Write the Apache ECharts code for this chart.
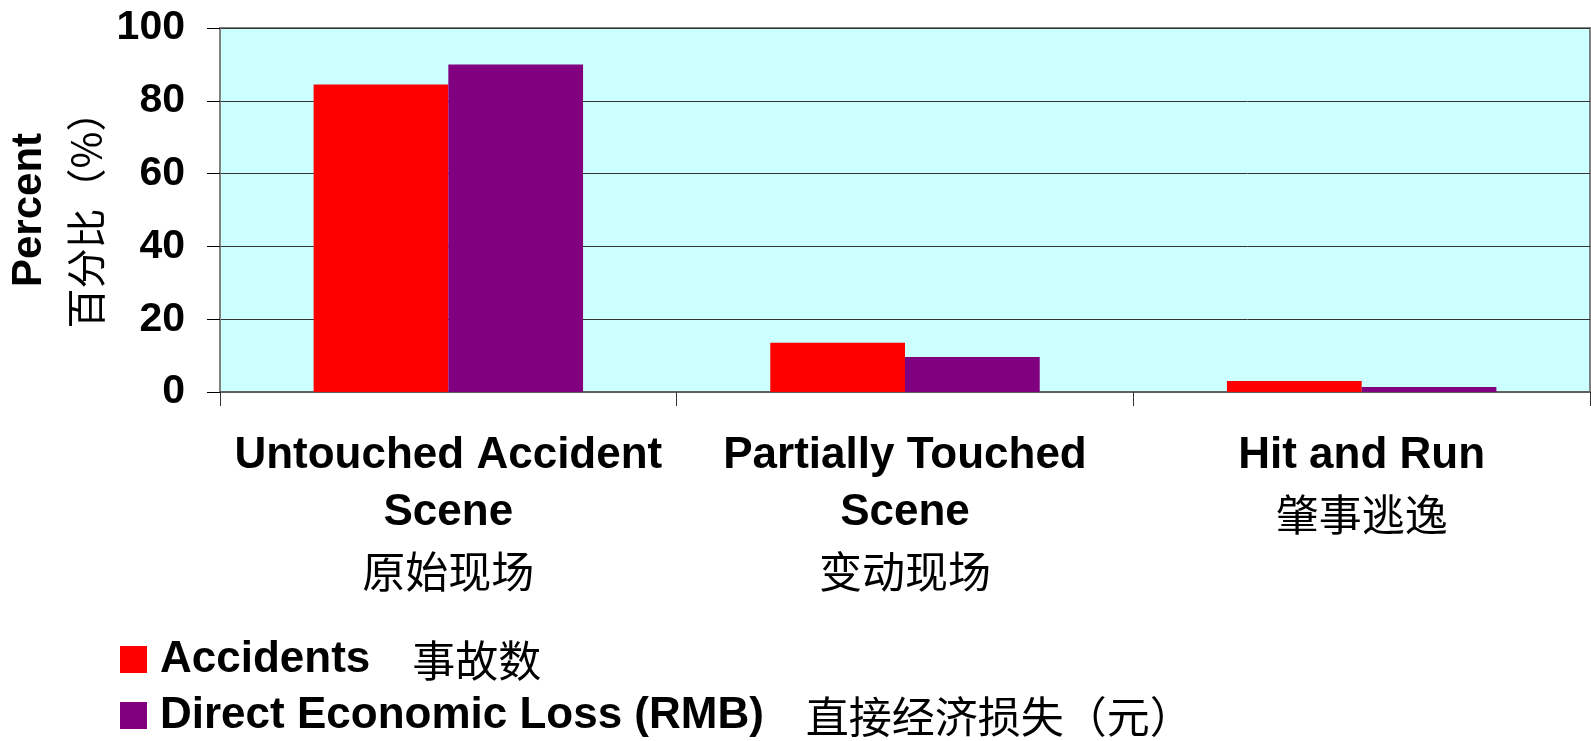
<!DOCTYPE html>
<html>
<head>
<meta charset="utf-8">
<script src="https://cdn.jsdelivr.net/npm/echarts@6/dist/echarts.min.js"></script>
<style>
  html, body { margin: 0; padding: 0; background: #fff; }
  #main { width: 1591px; height: 741px; }
</style>
</head>
<body>
<div id="main"></div>
<script>
// categories (english lines + chinese)
var catEn = ["Untouched Accident\nScene", "Partially Touched\nScene", "Hit and Run"];
var catZh = ["原始现场", "变动现场", "肇事逃逸"];

// series
var seriesEn = ["Accidents", "Direct Economic Loss (RMB)"];
var seriesZh = ["事故数", "直接经济损失（元）"];
var accidents = [84.5, 13.5, 3.0];
var economicLoss = [90.0, 9.6, 1.4];

var yTicks = [0, 20, 40, 60, 80, 100];

var EN_FONT = "'Liberation Sans', Arial, sans-serif";
var ZH_FONT = "'Noto Sans CJK SC', sans-serif";

var chartDom = document.getElementById("main");
var myChart = echarts.init(chartDom);
var option;

option = {
  animation: false,
  grid: {
    left: 220,
    top: 28,
    right: 1,
    bottom: 349,
    outerBoundsMode: "none",
    containLabel: false,
    show: true,
    backgroundColor: "#CCFFFF",
    borderColor: "#808080",
    borderWidth: 2,
  },
  legend: {
    orient: "vertical",
    left: 120,
    top: 637,
    height: 110,
    itemWidth: 27,
    itemHeight: 27,
    itemGap: 11,
    padding: 0,
    icon: "rect",
    data: seriesEn,
    formatter: function (name) {
      var i = seriesEn.indexOf(name);
      return "{en|" + name + "}{zh|" + seriesZh[i] + "}";
    },
    textStyle: {
      rich: {
        en: {
          fontFamily: EN_FONT,
          fontWeight: "bold",
          fontSize: 44,
          color: "#000",
          lineHeight: 46,
          padding: [0, 0, 0, 8],
        },
        zh: {
          fontFamily: ZH_FONT,
          fontSize: 43,
          color: "#000",
          lineHeight: 46,
          padding: [2, 0, 0, 42],
        },
      },
    },
  },
  xAxis: {
    type: "category",
    data: catEn,
    boundaryGap: true,
    axisLine: { lineStyle: { color: "#606060", width: 2 } },
    axisTick: { show: true, length: 14, lineStyle: { color: "#333" } },
    axisLabel: {
      margin: 35,
      interval: 0,
      formatter: function (value, idx) {
        var lines = value.split("\n").map(function (l) {
          return "{en|" + l + "}";
        });
        lines.push("{zh|" + catZh[idx] + "}");
        return lines.join("\n");
      },
      rich: {
        en: {
          fontFamily: EN_FONT,
          fontWeight: "bold",
          fontSize: 44,
          color: "#000",
          lineHeight: 57,
        },
        zh: {
          fontFamily: ZH_FONT,
          fontSize: 43,
          color: "#000",
          lineHeight: 62,
        },
      },
    },
  },
  yAxis: {
    type: "value",
    min: yTicks[0],
    max: yTicks[yTicks.length - 1],
    interval: 20,
    name: "{a|Percent}\n{b|百分比（%）}",
    nameLocation: "middle",
    nameRotate: 90,
    nameGap: 104,
    nameTextStyle: {
      rich: {
        a: {
          fontFamily: EN_FONT,
          fontWeight: "bold",
          fontSize: 42,
          color: "#000",
          lineHeight: 56,
        },
        b: {
          fontFamily: ZH_FONT,
          fontSize: 40,
          color: "#000",
          lineHeight: 56,
        },
      },
    },
    axisLine: { show: true, lineStyle: { color: "#808080", width: 2 } },
    axisTick: { show: true, length: 13, lineStyle: { color: "#000" } },
    axisLabel: {
      margin: 35,
      fontFamily: EN_FONT,
      fontWeight: "bold",
      fontSize: 41,
      color: "#000",
    },
    splitLine: { show: true, lineStyle: { color: "#333", width: 1 } },
  },
  series: [
    {
      name: seriesEn[0],
      type: "bar",
      data: accidents,
      barGap: "0%",
      barCategoryGap: "41%",
      itemStyle: { color: "#FF0000" },
    },
    {
      name: seriesEn[1],
      type: "bar",
      data: economicLoss,
      itemStyle: { color: "#800080" },
    },
  ],
};

option && myChart.setOption(option);
</script>
</body>
</html>
